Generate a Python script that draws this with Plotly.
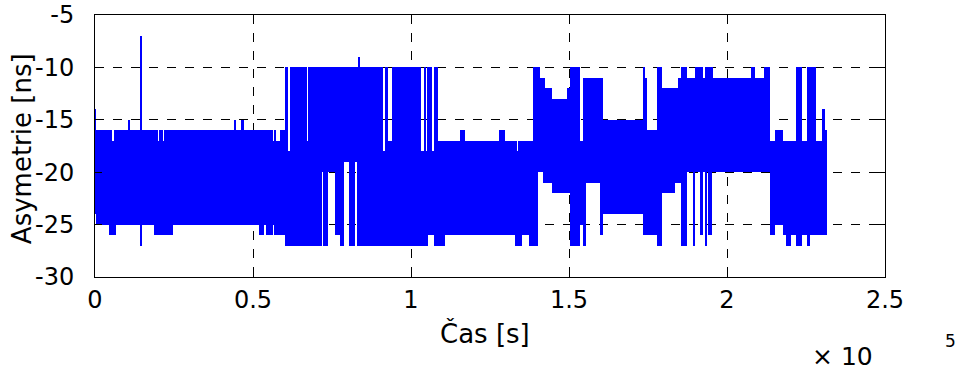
import plotly.graph_objects as go

# Each entry: time span [start, end] in seconds, and the top / bottom value (ns)
# reached by the densely oscillating signal inside that span.
seg_start = [0, 300, 4500, 5300, 6300, 6800, 10700, 11100, 14400, 14750, 18800, 20000, 20400, 21500, 21900,
             24600, 44000, 44600, 46300, 47000, 52000, 53500, 54000, 56200, 56600, 57300, 58500,
             60000, 61200, 61600, 67000, 67300, 71700, 72100, 73800, 75900, 77500, 78900, 80400,
             82300, 83100, 83400, 83700, 91200, 91800, 92600, 94100, 103300, 104200, 104800,
             105200, 106500, 107300,
             108600, 110700, 115500, 117000, 127800, 129700, 133000, 133400, 133900, 135000,
             137400, 138700,
             140300, 140800, 141800, 142400, 144500, 149400,
             150300, 153500, 154500, 155300, 159800, 160800,
             173500, 174200, 174800, 177700, 179300, 183500, 184600,
             185400, 187200, 189300, 189800, 191400, 192500, 193200, 193800, 194000, 195100,
             195600, 207500, 208800, 211800,
             213600, 215200, 217800, 218700, 220400, 221800, 223600, 225200, 226200, 228300,
             230000, 231000]
seg_end = [300, 4500, 5300, 6300, 6800, 10700, 11100, 14400, 14750, 18800, 20000, 20400, 21500, 21900, 24600,
           44000, 44600, 46300, 47000, 52000, 53500, 54000, 56200, 56600, 57300, 58500, 60000,
           61200, 61600, 67000, 67300, 71700, 72100, 73800, 75900, 77500, 78900, 80400, 82300,
           83100, 83400, 83700, 91200, 91800, 92600, 94100, 103300, 104200, 104800, 105200,
           106500, 107300, 108600,
           110700, 115500, 117000, 127800, 129700, 133000, 133400, 133900, 135000, 137400,
           138700, 140300,
           140800, 141800, 142400, 144500, 149400, 150300,
           153500, 154500, 155300, 159800, 160800, 173500,
           174200, 174800, 177700, 179300, 183500, 184600, 185400,
           187200, 189300, 189800, 191400, 192500, 193200, 193800, 194000, 195100, 195600,
           207500, 208800, 211800, 213600,
           215200, 217800, 218700, 220400, 221800, 223600, 225200, 226200, 228300, 230000,
           231000, 231500]
seg_top = [-14, -16, -16, -17, -16, -16, -15, -16, -7, -16, -16, -17, -16, -17, -16,
           -16, -15, -16, -15, -16, -16, -16, -16, -17, -16, -17, -16,
           -10, -18, -10, -17, -10, -10, -10, -10, -10, -10, -10, -10,
           -10, -10, -9, -10, -18, -10, -17, -10, -18, -10, -18,
           -10, -18, -10,
           -17, -17, -16, -17, -16, -17, -17, -18, -17, -17,
           -17, -10,
           -10, -11, -11, -12, -13, -12,
           -10, -17, -11, -11, -11, -15,
           -10, -11, -16, -10, -12, -12, -11,
           -10, -11, -11, -10, -10, -11, -10, -10, -10, -10,
           -11, -10, -11, -10,
           -17, -16, -17, -17, -17, -10, -17, -10, -10, -17,
           -14, -16]
seg_bottom = [-24, -25, -26, -26, -26, -25, -25, -25, -27, -25, -26, -26, -26, -26, -26,
              -25, -25, -25, -25, -25, -26, -25, -26, -25, -26, -26, -26,
              -27, -27, -27, -27, -27, -20, -27, -20, -26, -27, -19, -27,
              -19, -27, -27, -27, -27, -27, -27, -27, -27, -27, -27,
              -26, -26, -27,
              -27, -26, -26, -26, -26, -26, -27, -27, -27, -26,
              -27, -27,
              -20, -20, -21, -21, -22, -22,
              -27, -25, -27, -21, -26, -24,
              -26, -26, -26, -27, -22, -21, -21,
              -27, -20, -27, -20, -26, -20, -27, -20, -26, -20,
              -20, -20, -20, -20,
              -26, -25, -26, -27, -26, -27, -26, -27, -26, -26,
              -26, -26]

x_tick_vals = [0, 50000, 100000, 150000, 200000, 250000]
x_tick_text = ["0", "0.5", "1", "1.5", "2", "2.5"]
y_tick_vals = [-30, -25, -20, -15, -10, -5]
y_tick_text = ["-30", "-25", "-20", "-15", "-10", "-5"]

centers = [(a + b) / 2 for a, b in zip(seg_start, seg_end)]
widths = [b - a for a, b in zip(seg_start, seg_end)]
heights = [t - b for t, b in zip(seg_top, seg_bottom)]

FONT = "DejaVu Sans"

fig = go.Figure()
fig.add_trace(go.Bar(
    x=centers, y=heights, base=seg_bottom, width=widths,
    marker=dict(color="#0000FF", line=dict(width=0)),
    hoverinfo="skip", showlegend=False,
))

axis_common = dict(
    showline=True, linecolor="black", linewidth=1, mirror="ticks",
    ticks="inside", ticklen=7, tickcolor="black",
    showgrid=True, gridcolor="black", griddash="dash", gridwidth=1,
    zeroline=False, tickfont=dict(family=FONT, size=24, color="black"),
    automargin=False, ticklabeloverflow="allow",
)

fig.update_xaxes(range=[0, 250000], tickvals=x_tick_vals, ticktext=x_tick_text,
                 ticklabelstandoff=1, **axis_common)
fig.update_yaxes(range=[-30, -5], tickvals=y_tick_vals, ticktext=y_tick_text,
                 ticklabelstandoff=15, **axis_common)

annotations = [
    dict(text="Asymetrie [ns]", x=-0.093, y=0.49, textangle=-90, font=dict(size=26)),
    dict(text="Čas [s]", x=0.494, y=-0.215, font=dict(size=26)),
    dict(text="× 10", x=0.946, y=-0.305, font=dict(size=25)),
    dict(text="5", x=1.083, y=-0.244, font=dict(size=17)),
]
for a in annotations:
    fig.add_annotation(xref="paper", yref="paper", showarrow=False,
                       xanchor="center", yanchor="middle", **a)

fig.update_layout(
    width=960, height=370,
    margin=dict(l=95, r=75, t=15, b=93),
    plot_bgcolor="white", paper_bgcolor="white",
    bargap=0,
    font=dict(family=FONT, color="black"),
)

# remove the browser's default 8 px page margin so the figure fills the window
fig.write_html("out.html", config={"displayModeBar": False},
               post_script="document.body.style.margin='0';")
